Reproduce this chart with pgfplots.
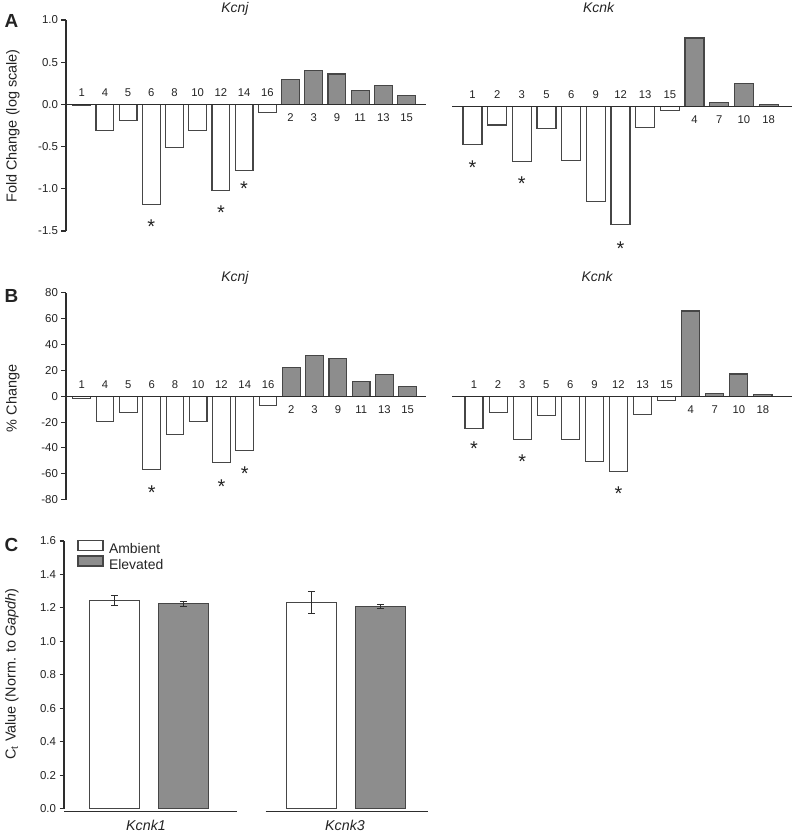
\documentclass[border=0pt]{standalone}
\usepackage{fontspec}
\setmainfont{Liberation Sans}
\usepackage{pgfplots}
\usepackage{pgfplotstable}
\pgfplotsset{compat=1.18}
\definecolor{barfill}{RGB}{141,141,141}
\definecolor{edge}{RGB}{70,70,70}
\definecolor{axc}{RGB}{45,45,45}
\definecolor{txt}{RGB}{35,35,35}

% ---------- Panel A, Kcnj ----------
\pgfplotstableread{
x y lab z
1 -0.012 1 0
2 -0.31 4 0
3 -0.19 5 0
4 -1.19 6 0
5 -0.51 8 0
6 -0.31 10 0
7 -1.02 12 0
8 -0.78 14 0
9 -0.10 16 0
}\AjNeg
\pgfplotstableread{
x y lab z
10 0.29 2 0
11 0.40 3 0
12 0.36 9 0
13 0.16 11 0
14 0.22 13 0
15 0.11 15 0
}\AjPos
\pgfplotstableread{
x y
4 -1.40
7 -1.23
8 -0.945
}\AjStar
% ---------- Panel A, Kcnk ----------
\pgfplotstableread{
x y lab z
1 -0.455 1 0
2 -0.22 2 0
3 -0.65 3 0
4 -0.26 5 0
5 -0.64 6 0
6 -1.13 9 0
7 -1.40 12 0
8 -0.245 13 0
9 -0.05 15 0
}\AkNeg
\pgfplotstableread{
x y lab z
10 0.81 4 0
11 0.045 7 0
12 0.27 10 0
13 0.02 18 0
}\AkPos
\pgfplotstableread{
x y
1 -0.67
3 -0.87
7 -1.63
}\AkStar
% ---------- Panel B, Kcnj ----------
\pgfplotstableread{
x y lab z
1 -1.5 1 0
2 -19.8 4 0
3 -12.9 5 0
4 -56.4 6 0
5 -29.9 8 0
6 -19.8 10 0
7 -51.2 12 0
8 -42.2 14 0
9 -7.2 16 0
}\BjNeg
\pgfplotstableread{
x y lab z
10 22.4 2 0
11 31.7 3 0
12 29.3 9 0
13 11.1 11 0
14 16.7 13 0
15 7.7 15 0
}\BjPos
\pgfplotstableread{
x y
4 -71.3
7 -66.7
8 -56.6
}\BjStar
% ---------- Panel B, Kcnk ----------
\pgfplotstableread{
x y lab z
1 -25.0 1 0
2 -12.6 2 0
3 -33.5 3 0
4 -14.9 5 0
5 -33.2 6 0
6 -50.7 9 0
7 -58.2 12 0
8 -14.4 13 0
9 -3.3 15 0
}\BkNeg
\pgfplotstableread{
x y lab z
10 65.9 4 0
11 2.3 7 0
12 17.2 10 0
13 1.5 18 0
}\BkPos
\pgfplotstableread{
x y
1 -37.0
3 -47.4
7 -72.3
}\BkStar
% ---------- Panel C ----------
\pgfplotstableread{
x y e
1 1.245 0.029
3.855 1.233 0.067
}\Camb
\pgfplotstableread{
x y e
2 1.225 0.016
4.858 1.209 0.013
}\Celev

\pgfplotsset{
  base/.style={scale only axis, clip=false, anchor=south west, xtick=\empty,
    every axis plot/.append style={line width=1bp}},
  yax/.style={axis y line=left, axis x line=none,
    axis line style={-, draw=axc, line width=1.1bp},
    tick align=outside, major tick length=4.5bp,
    tick style={draw=axc, line width=1.1bp},
    yticklabel style={font=\fontsize{11.5}{12}\selectfont, color=txt,
      /pgf/number format/.cd, fixed, fixed zerofill, precision=1, assume math mode=true}},
  yaxint/.style={yax, yticklabel style={/pgf/number format/.cd, precision=0, fixed zerofill=false}},
  negbar/.style={ybar, bar width=#1, fill=white, draw=edge, line width=1.1bp},
  posbar/.style={ybar, bar width=#1, fill=barfill, draw=edge, line width=1.1bp},
  labup/.style={draw=none, mark=none, nodes near coords, point meta=explicit symbolic,
    every node near coord/.append style={anchor=base, yshift=8bp,
      font=\fontsize{11.3}{12}\selectfont, color=txt, inner sep=0pt}},
  labdown/.style={draw=none, mark=none, nodes near coords, point meta=explicit symbolic,
    every node near coord/.append style={anchor=base, yshift=-17bp,
      font=\fontsize{11.3}{12}\selectfont, color=txt, inner sep=0pt}},
  stars/.style={draw=none, mark=none, nodes near coords={*}, point meta=explicit symbolic,
    every node near coord/.append style={anchor=center, yshift=-4.3bp,
      font=\fontsize{20}{21}\selectfont, color=txt, inner sep=0pt}},
}

\begin{document}
\begin{tikzpicture}[x=1bp,y=1bp]
\useasboundingbox (0,0) rectangle (792,837);

% ===== Panel A left =====
\begin{axis}[base, yax, at={(66bp,606bp)}, width=360bp, height=211bp,
  xmin=0.3233, xmax=15.84, ymin=-1.5, ymax=1.0, ytick={-1.5,-1,-0.5,0,0.5,1}]
\addplot[negbar=0.77] table[x=x,y=y] \AjNeg;
\addplot[posbar=0.77] table[x=x,y=y] \AjPos;
\draw[axc, line width=1.1bp] (axis cs:0.3233,0) -- (axis cs:15.84,0);
\addplot[labup] table[x=x,y=z,meta=lab] \AjNeg;
\addplot[labdown] table[x=x,y=z,meta=lab] \AjPos;
\addplot[stars] table[x=x,y=y] \AjStar;
\end{axis}

% ===== Panel A right =====
\begin{axis}[base, hide axis, at={(452bp,604bp)}, width=340bp, height=211bp,
  xmin=0.169, xmax=13.951, ymin=-1.5, ymax=1.0]
\addplot[negbar=0.77] table[x=x,y=y] \AkNeg;
\addplot[posbar=0.77] table[x=x,y=y] \AkPos;
\draw[axc, line width=1.1bp] (axis cs:0.169,0) -- (axis cs:13.951,0);
\addplot[labup] table[x=x,y=z,meta=lab] \AkNeg;
\addplot[labdown] table[x=x,y=z,meta=lab] \AkPos;
\addplot[stars] table[x=x,y=y] \AkStar;
\end{axis}

% ===== Panel B left =====
\begin{axis}[base, yaxint, at={(66bp,337.3bp)}, width=360bp, height=207bp,
  xmin=0.322, xmax=15.785, ymin=-80, ymax=80, ytick={-80,-60,-40,-20,0,20,40,60,80}]
\addplot[negbar=0.76] table[x=x,y=y] \BjNeg;
\addplot[posbar=0.76] table[x=x,y=y] \BjPos;
\draw[axc, line width=1.1bp] (axis cs:0.322,0) -- (axis cs:15.785,0);
\addplot[labup] table[x=x,y=z,meta=lab] \BjNeg;
\addplot[labdown] table[x=x,y=z,meta=lab] \BjPos;
\addplot[stars] table[x=x,y=y] \BjStar;
\end{axis}

% ===== Panel B right =====
\begin{axis}[base, hide axis, at={(452bp,337.2bp)}, width=340bp, height=207bp,
  xmin=0.0864, xmax=14.206, ymin=-80, ymax=80]
\addplot[negbar=0.75] table[x=x,y=y] \BkNeg;
\addplot[posbar=0.75] table[x=x,y=y] \BkPos;
\draw[axc, line width=1.1bp] (axis cs:0.0864,0) -- (axis cs:14.206,0);
\addplot[labup] table[x=x,y=z,meta=lab] \BkNeg;
\addplot[labdown] table[x=x,y=z,meta=lab] \BkPos;
\addplot[stars] table[x=x,y=y] \BkStar;
\end{axis}

% ===== Panel C =====
\begin{axis}[base, yax, at={(64bp,28.3bp)}, width=363.7bp, height=267.7bp,
  xmin=0.271, xmax=5.542, ymin=0, ymax=1.6,
  ytick={0,0.2,0.4,0.6,0.8,1.0,1.2,1.4,1.6},
  legend image code/.code={\draw[#1] (0bp,-1bp) rectangle (25bp,9bp);},
  legend style={draw=none, fill=none, at={(0.0363,1.006)}, anchor=north west,
    font=\fontsize{14}{16}\selectfont, text=txt, inner sep=0pt, row sep=0pt,
    nodes={inner sep=0.5bp}},
  legend cell align=left]
\addplot[posbar=0.725, fill=white, error bars/.cd, y dir=both, y explicit,
  error bar style={draw=axc, line width=1.1bp},
  error mark options={draw=axc, rotate=90, mark size=3.5bp, line width=1.1bp}]
  table[x=x,y=y,y error=e] \Camb;
\addlegendentry{\hspace{5bp}Ambient}
\addplot[posbar=0.725, error bars/.cd, y dir=both, y explicit,
  error bar style={draw=axc, line width=1.1bp},
  error mark options={draw=axc, rotate=90, mark size=3.5bp, line width=1.1bp}]
  table[x=x,y=y,y error=e] \Celev;
\addlegendentry{\hspace{5bp}Elevated}
\draw[axc, line width=1.2bp] (axis cs:0.271,-0.018) -- (axis cs:2.774,-0.018);
\draw[axc, line width=1.2bp] (axis cs:3.194,-0.018) -- (axis cs:5.542,-0.018);
\end{axis}

% ===== Texts =====
\begin{scope}[every node/.style={text=txt}]
\node[font=\fontsize{19}{20}\selectfont\bfseries] at (11.5,816) {A};
\node[font=\fontsize{19}{20}\selectfont\bfseries] at (11.5,541) {B};
\node[font=\fontsize{19}{20}\selectfont\bfseries] at (11.5,292.5) {C};
\node[rotate=90, font=\fontsize{14.5}{16}\selectfont] at (13,711) {Fold Change (log scale)};
\node[rotate=90, font=\fontsize{14.5}{16}\selectfont] at (13,438.5) {\% Change};
\node[rotate=90, font=\fontsize{14.5}{16}\selectfont] at (12,163) {C\textsubscript{t} Value (Norm. to \textit{Gapdh})};
\node[anchor=base, font=\fontsize{14}{16}\selectfont\itshape] at (235,824.5) {Kcnj};
\node[anchor=base, font=\fontsize{14}{16}\selectfont\itshape] at (598.5,824.5) {Kcnk};
\node[anchor=base, font=\fontsize{14}{16}\selectfont\itshape] at (235,555.5) {Kcnj};
\node[anchor=base, font=\fontsize{14}{16}\selectfont\itshape] at (597,555.5) {Kcnk};
\node[font=\fontsize{14.3}{16}\selectfont\itshape] at (146,11.3) {Kcnk1};
\node[font=\fontsize{14.3}{16}\selectfont\itshape] at (345,11.3) {Kcnk3};
\end{scope}
\end{tikzpicture}
\end{document}
